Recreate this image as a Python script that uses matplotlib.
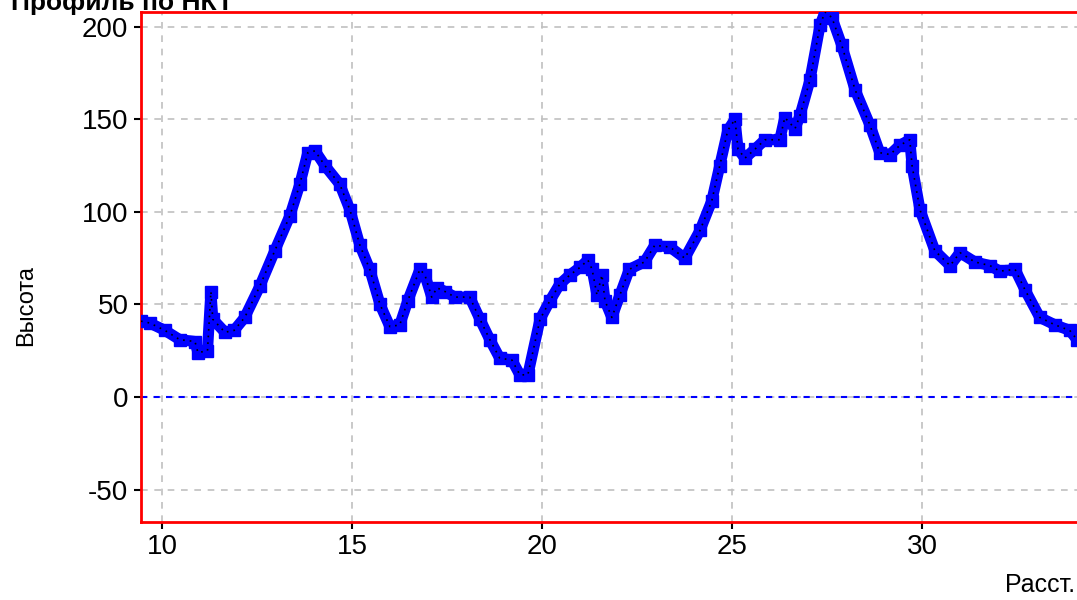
import matplotlib.pyplot as plt

# profile (distance, height)
dist = [9.45, 9.68, 10.08, 10.47, 10.87, 10.95, 11.2, 11.29, 11.34, 11.66,
        11.9, 12.18, 12.58, 12.97, 13.37, 13.63, 13.84, 14.03, 14.29, 14.68,
        14.95, 15.21, 15.47, 15.74, 16.0, 16.26, 16.47, 16.79, 16.92, 17.1,
        17.24, 17.45, 17.71, 18.1, 18.37, 18.63, 18.89, 19.21, 19.42, 19.63,
        19.95, 20.21, 20.47, 20.74, 21.0, 21.21, 21.32, 21.45, 21.58, 21.66,
        21.84, 22.05, 22.3, 22.7, 22.97, 23.37, 23.76, 24.16, 24.47, 24.68,
        24.89, 25.08, 25.16, 25.34, 25.61, 25.87, 26.26, 26.39, 26.66, 26.79,
        27.05, 27.32, 27.45, 27.63, 27.89, 28.24, 28.63, 28.89, 29.16, 29.42,
        29.68, 29.74, 29.95, 30.34, 30.74, 31.0, 31.39, 31.79, 32.05, 32.45,
        32.71, 33.1, 33.5, 33.89, 34.08]
height = [41, 40, 36, 31, 30, 24, 25, 57, 42, 35,
          36, 43, 60, 79, 98, 115, 132, 133, 125, 115,
          101, 82, 69, 50, 38, 39, 52, 69, 66, 54,
          59, 57, 54, 54, 42, 31, 21, 20, 12, 12,
          42, 52, 61, 66, 70, 74, 69, 55, 66, 52,
          43, 55, 69, 73, 82, 81, 75, 90, 106, 125,
          144, 150, 134, 129, 134, 139, 139, 151, 145, 152,
          171, 201, 208, 205, 190, 166, 147, 132, 131, 136,
          139, 125, 101, 79, 71, 78, 73, 71, 68, 69,
          58, 43, 39, 36, 31]

xticks = [10, 15, 20, 25, 30]
yticks = [-50, 0, 50, 100, 150, 200]

plt.rcParams['font.family'] = ['Liberation Sans', 'DejaVu Sans']
plt.rcParams['axes.unicode_minus'] = False

fig = plt.figure(figsize=(10.77, 6.0), dpi=100)
ax = fig.add_axes([0.1309, 0.13, 0.8691, 0.85])

ax.set_xlim(9.45, 34.08)
ax.set_ylim(-67.5, 208)
ax.set_xticks(xticks)
ax.set_yticks(yticks)
ax.grid(True, color='#c0c0c0', linestyle=(0, (4, 4)), linewidth=1.2)

ax.axhline(0, color='#0000ff', linestyle=(0, (3, 3)), linewidth=1.5)
ax.plot(dist, height, color='#0000ff', linewidth=8, solid_joinstyle='bevel',
        solid_capstyle='butt', marker='s', markersize=8, zorder=3)
ax.plot(dist, height, color='black', linewidth=1.2, linestyle=(0, (1, 3)), zorder=4)

for side in ['left', 'top', 'bottom']:
    ax.spines[side].set_color('red')
    ax.spines[side].set_linewidth(2)
ax.spines['right'].set_visible(False)

ax.tick_params(labelsize=20, length=5, width=1.5, color='black', pad=4)

fig.text(0.024, 0.49, 'Высота', rotation=90, fontsize=17, ha='center', va='center')
fig.text(0.998, 0.025, 'Расст.', fontsize=18, ha='right', va='center')
fig.text(0.01, 0.995, 'Профиль по НКТ', fontsize=19, fontweight='bold',
         ha='left', va='center')

fig.savefig('out.png', dpi=100)
